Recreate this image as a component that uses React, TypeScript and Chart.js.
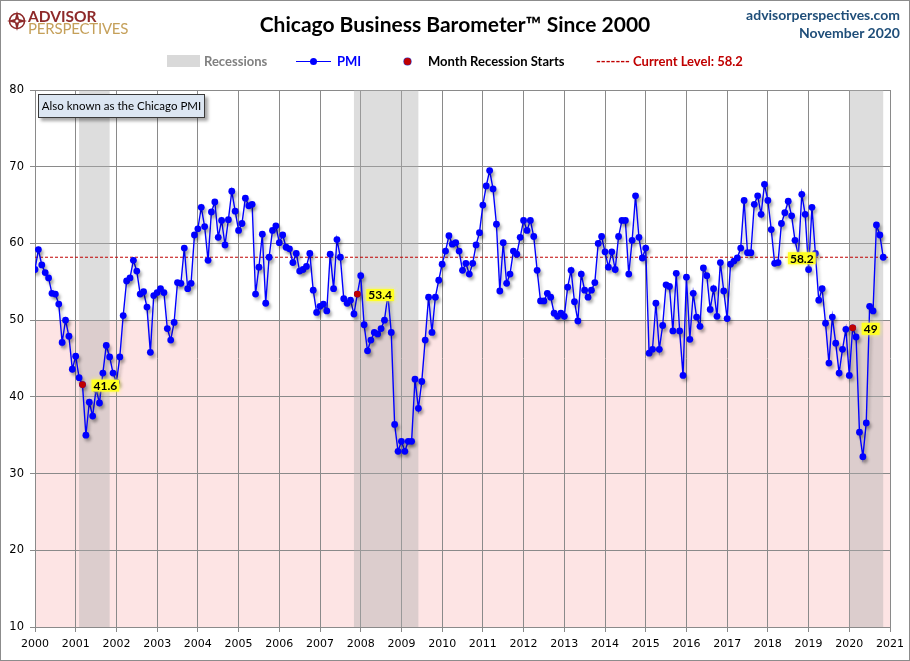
import React, { useEffect, useRef } from "react";
import { Chart, registerables } from "chart.js";

Chart.register(...registerables);

// ---------- data ----------
const yearLabels = [
  "2000", "2001", "2002", "2003", "2004", "2005", "2006", "2007", "2008", "2009", "2010",
  "2011", "2012", "2013", "2014", "2015", "2016", "2017", "2018", "2019", "2020", "2021",
];

// Monthly Chicago PMI, Jan 2000 .. Nov 2020
const pmi = [
  // 2000
  56.6, 59.2, 57.2, 56.2, 55.5, 53.5, 53.4, 52.1, 47.1, 50.0, 47.9, 43.6,
  // 2001
  45.3, 42.5, 41.6, 35.0, 39.3, 37.5, 41.0, 39.2, 43.1, 46.7, 45.2, 43.1,
  // 2002
  41.9, 45.2, 50.6, 55.1, 55.5, 57.8, 56.4, 53.4, 53.7, 51.7, 45.8, 53.2,
  // 2003
  53.6, 54.1, 53.6, 48.9, 47.4, 49.7, 54.9, 54.8, 59.4, 54.1, 54.8, 61.1,
  // 2004
  61.9, 64.7, 62.2, 57.8, 64.1, 65.4, 60.8, 63.0, 59.8, 63.1, 66.8, 64.2,
  // 2005
  61.7, 62.6, 65.9, 64.9, 65.1, 53.4, 56.9, 61.2, 52.2, 58.2, 61.7, 62.3,
  // 2006
  60.1, 61.1, 59.5, 59.3, 57.5, 58.7, 56.4, 56.6, 57.0, 58.7, 53.9, 51.0,
  // 2007
  51.8, 52.1, 51.2, 58.6, 54.1, 60.5, 58.2, 52.8, 52.2, 52.6, 50.8, 53.4,
  // 2008
  55.8, 49.4, 46.0, 47.4, 48.4, 48.2, 48.9, 50.0, 53.3, 48.4, 36.4, 32.9,
  // 2009
  34.2, 32.9, 34.2, 34.2, 42.3, 38.5, 42.0, 47.4, 53.0, 48.4, 53.0, 55.2,
  // 2010
  57.3, 59.0, 61.0, 59.9, 60.1, 59.0, 56.5, 57.4, 56.0, 57.4, 59.8, 61.4,
  // 2011
  65.0, 67.5, 69.5, 67.1, 62.5, 53.8, 60.1, 54.8, 56.0, 59.0, 58.6, 60.8,
  // 2012
  63.0, 61.7, 63.0, 60.9, 56.5, 52.5, 52.5, 53.5, 53.0, 50.9, 50.5, 50.9,
  // 2013
  50.5, 54.3, 56.5, 52.4, 49.9, 56.0, 53.9, 53.0, 53.9, 54.9, 60.0, 60.9,
  // 2014
  58.9, 56.9, 58.9, 56.6, 60.9, 63.0, 63.0, 56.0, 60.4, 66.2, 60.8, 58.1,
  // 2015
  59.4, 45.7, 46.2, 52.2, 46.2, 49.3, 54.6, 54.4, 48.6, 56.1, 48.6, 42.8,
  // 2016
  55.6, 47.5, 53.5, 50.4, 49.2, 56.8, 55.8, 51.4, 54.1, 50.5, 57.5, 53.8,
  // 2017
  50.2, 57.3, 57.7, 58.1, 59.4, 65.6, 58.8, 58.8, 65.1, 66.2, 63.8, 67.7,
  // 2018
  65.6, 61.8, 57.4, 57.5, 62.6, 64.0, 65.5, 63.6, 60.4, 58.4, 66.4, 63.8,
  // 2019
  56.6, 64.7, 58.7, 52.6, 54.1, 49.6, 44.4, 50.4, 47.0, 43.1, 46.2, 48.8,
  // 2020
  42.8, 49.0, 47.8, 35.4, 32.2, 36.6, 51.8, 51.2, 62.4, 61.1, 58.2,
];

const months = pmi.map(
  (_, i) => `${2000 + Math.floor(i / 12)}-${String((i % 12) + 1).padStart(2, "0")}`
);

const recessionStarts = ["2001-03", "2007-12", "2020-02"];
const recessionShading = [
  ["2001-02", "2001-11"],
  ["2007-11", "2009-06"],
  ["2020-01", "2020-11"],
];
const currentLevel = 58.2;
const currentLevelLabelMonth = "2018-11";

const yTicks = [10, 20, 30, 40, 50, 60, 70, 80];
const contractionBelow = 50;

const mi = (m: string) => months.indexOf(m);

// ---------- styles ----------
const BLUE = "#0000ff";
const DARKRED = "#c00000";
const GRID = "#8a8a8a";
const FONT = "Lato, 'Open Sans', sans-serif";

function drawCallout(ctx: CanvasRenderingContext2D, text: string, x: number, y: number, align: "left" | "center") {
  ctx.save();
  ctx.font = `bold 12px ${FONT}`;
  const w = ctx.measureText(text).width;
  const left = align === "left" ? x : x - w / 2;
  ctx.shadowColor = "rgba(255,255,80,0.9)";
  ctx.shadowBlur = 4;
  ctx.fillStyle = "#ffff22";
  ctx.fillRect(left - 2, y - 6, w + 4, 12);
  ctx.shadowBlur = 0;
  ctx.fillStyle = "#000";
  ctx.textBaseline = "middle";
  ctx.textAlign = "left";
  ctx.fillText(text, left, y + 0.5);
  ctx.restore();
}

const backgroundPlugin = {
  id: "bands",
  beforeDraw(chart: any) {
    const { ctx, chartArea, scales } = chart;
    const y = scales.y;
    ctx.save();
    ctx.fillStyle = "#fde4e4";
    const top = y.getPixelForValue(contractionBelow);
    const bottom = y.getPixelForValue(y.min);
    ctx.fillRect(chartArea.left, top, chartArea.right - chartArea.left, bottom - top);
    ctx.restore();
  },
  beforeDatasetsDraw(chart: any) {
    const { ctx, chartArea, scales } = chart;
    const x = scales.x;
    ctx.save();
    ctx.fillStyle = "rgba(175,175,175,0.42)";
    recessionShading.forEach(([s, e]) => {
      const x0 = x.getPixelForValue(mi(s));
      const x1 = x.getPixelForValue(mi(e));
      ctx.fillRect(x0, chartArea.top, x1 - x0, chartArea.bottom - chartArea.top);
    });
    ctx.restore();
  },
  beforeDatasetDraw(chart: any, args: any) {
    if (args.index === 1) {
      const ctx = chart.ctx;
      ctx.save();
      ctx.shadowColor = "rgba(0,0,0,0.28)";
      ctx.shadowBlur = 3;
      ctx.shadowOffsetX = 2;
      ctx.shadowOffsetY = 3;
    }
  },
  afterDatasetDraw(chart: any, args: any) {
    if (args.index === 1) chart.ctx.restore();
  },
  afterDatasetsDraw(chart: any) {
    const { ctx, scales } = chart;
    const x = scales.x;
    const y = scales.y;
    recessionStarts.forEach((m) => {
      const i = mi(m);
      const v = pmi[i];
      drawCallout(ctx, String(v), x.getPixelForValue(i) + 11, y.getPixelForValue(v) + 1, "left");
    });
    drawCallout(
      ctx,
      String(currentLevel),
      x.getPixelForValue(mi(currentLevelLabelMonth)),
      y.getPixelForValue(currentLevel) + 1,
      "center"
    );
  },
};

export default function App() {
  const ref = useRef<HTMLCanvasElement | null>(null);

  useEffect(() => {
    if (!ref.current) return;
    const lastIdx = (yearLabels.length - 1) * 12;
    const chart = new Chart(ref.current, {
      type: "line",
      data: {
        datasets: [
          {
            label: "Current Level",
            data: [
              { x: 0, y: currentLevel },
              { x: lastIdx, y: currentLevel },
            ],
            borderColor: DARKRED,
            borderWidth: 1,
            borderDash: [3, 2],
            pointRadius: 0,
            order: 3,
          },
          {
            label: "PMI",
            data: pmi.map((v, i) => ({ x: i, y: v })),
            borderColor: BLUE,
            backgroundColor: BLUE,
            borderWidth: 1.4,
            pointRadius: 3.4,
            pointBorderWidth: 0,
            pointBackgroundColor: BLUE,
            tension: 0,
            order: 2,
          },
          {
            label: "Month Recession Starts",
            data: recessionStarts.map((m) => ({ x: mi(m), y: pmi[mi(m)] })),
            showLine: false,
            pointRadius: 3.4,
            pointBorderWidth: 0,
            pointBackgroundColor: DARKRED,
            borderColor: DARKRED,
            order: 1,
          },
        ],
      },
      options: {
        animation: false,
        responsive: false,
        events: [],
        layout: { padding: { top: 90, right: 16, bottom: 0, left: 0 } },
        plugins: { legend: { display: false }, tooltip: { enabled: false }, title: { display: false } },
        scales: {
          x: {
            type: "linear",
            min: 0,
            max: lastIdx,
            afterFit: (s: any) => {
              s.height = 34;
            },
            afterBuildTicks: (s: any) => {
              s.ticks = yearLabels.map((_, k) => ({ value: k * 12 }));
            },
            ticks: {
              autoSkip: false,
              maxRotation: 0,
              padding: 6,
              color: "#000",
              font: { family: "'DejaVu Sans', sans-serif", size: 11 },
              callback: (v: any) => yearLabels[Math.round(Number(v) / 12)] ?? "",
            },
            grid: { color: GRID, lineWidth: 1, tickLength: 5, drawTicks: true },
            border: { display: true, color: GRID },
          },
          y: {
            min: yTicks[0],
            max: yTicks[yTicks.length - 1],
            afterFit: (s: any) => {
              s.width = 35;
            },
            afterBuildTicks: (s: any) => {
              s.ticks = yTicks.map((v) => ({ value: v }));
            },
            ticks: {
              padding: 6,
              color: "#000",
              font: { family: "'DejaVu Sans', sans-serif", size: 11.5 },
            },
            grid: { color: GRID, lineWidth: 1, tickLength: 5, drawTicks: true },
            border: { display: true, color: GRID },
          },
        },
      },
      plugins: [backgroundPlugin],
    } as any);
    return () => chart.destroy();
  }, []);

  const abs = (s: React.CSSProperties): React.CSSProperties => ({ position: "absolute", whiteSpace: "nowrap", ...s });

  return (
    <div
      style={{
        position: "absolute",
        left: 0,
        top: 0,
        width: 910,
        height: 661,
        background: "#fff",
        fontFamily: FONT,
        overflow: "hidden",
      }}
    >
      <canvas ref={ref} width={910} height={661} style={{ position: "absolute", left: 0, top: 0, width: 910, height: 661 }} />

      {/* logo */}
      <svg style={abs({ left: 7, top: 11 })} width={20} height={20} viewBox="0 0 20 20">
        <circle cx={10} cy={10} r={7.5} fill="none" stroke="#8e2a2a" strokeWidth={1.6} />
        <polygon points="10,0 12,8 20,10 12,12 10,20 8,12 0,10 8,8" fill="#8e2a2a" />
        <circle cx={10} cy={10} r={1.6} fill="#fff" />
      </svg>
      <div style={abs({ left: 28, top: 9, fontSize: 15.5, fontWeight: 700, color: "#8e2a2a", lineHeight: "14px" })}>ADVISOR</div>
      <div style={abs({ left: 28, top: 21, fontSize: 15, color: "#c5a05a", lineHeight: "14px", letterSpacing: -0.2 })}>PERSPECTIVES</div>

      {/* title */}
      <div style={abs({ left: 0, top: 10, width: 910, textAlign: "center", fontSize: 21, fontWeight: 700, color: "#000", lineHeight: "28px" })}>
        Chicago Business Barometer™ Since 2000
      </div>
      <div style={abs({ right: 10, top: 6, fontSize: 14, fontWeight: 700, color: "#1f4e79", lineHeight: "18px", textAlign: "right" })}>
        advisorperspectives.com
      </div>
      <div style={abs({ right: 10, top: 24, fontSize: 14, fontWeight: 700, color: "#1f4e79", lineHeight: "18px", textAlign: "right" })}>
        November 2020
      </div>

      {/* legend */}
      <div style={abs({ left: 167, top: 55, width: 33, height: 12, background: "#d9d9d9" })} />
      <div style={abs({ left: 204, top: 53, fontSize: 13, fontWeight: 700, color: "#808080", lineHeight: "16px" })}>Recessions</div>
      <div style={abs({ left: 296, top: 60.5, width: 35, height: 1.5, background: BLUE })} />
      <div style={abs({ left: 310, top: 57.5, width: 7, height: 7, borderRadius: 4, background: BLUE })} />
      <div style={abs({ left: 337, top: 53, fontSize: 13, fontWeight: 700, color: BLUE, lineHeight: "16px" })}>PMI</div>
      <div style={abs({ left: 404, top: 58, width: 7, height: 7, borderRadius: 4, background: DARKRED, boxShadow: "0 0 0 0.6px #3030c0" })} />
      <div style={abs({ left: 428, top: 53, fontSize: 13, fontWeight: 700, color: "#000", lineHeight: "16px" })}>Month Recession Starts</div>
      <div style={abs({ left: 596, top: 53, fontSize: 13, fontWeight: 700, color: DARKRED, lineHeight: "16px" })}>
        ------- Current Level: 58.2
      </div>

      {/* note box */}
      <div
        style={abs({
          left: 38,
          top: 94,
          width: 165,
          height: 22,
          background: "#dce6f2",
          border: "1px solid #3a3a3a",
          boxShadow: "3px 3px 3px rgba(0,0,0,0.35)",
          fontSize: 11.5,
          lineHeight: "22px",
          textAlign: "center",
          color: "#000",
        })}
      >
        Also known as the Chicago PMI
      </div>

      {/* frame */}
      <div style={abs({ left: 0, top: 0, width: 910, height: 661, boxSizing: "border-box", border: "1px solid #8c8c8c", pointerEvents: "none" })} />
    </div>
  );
}
